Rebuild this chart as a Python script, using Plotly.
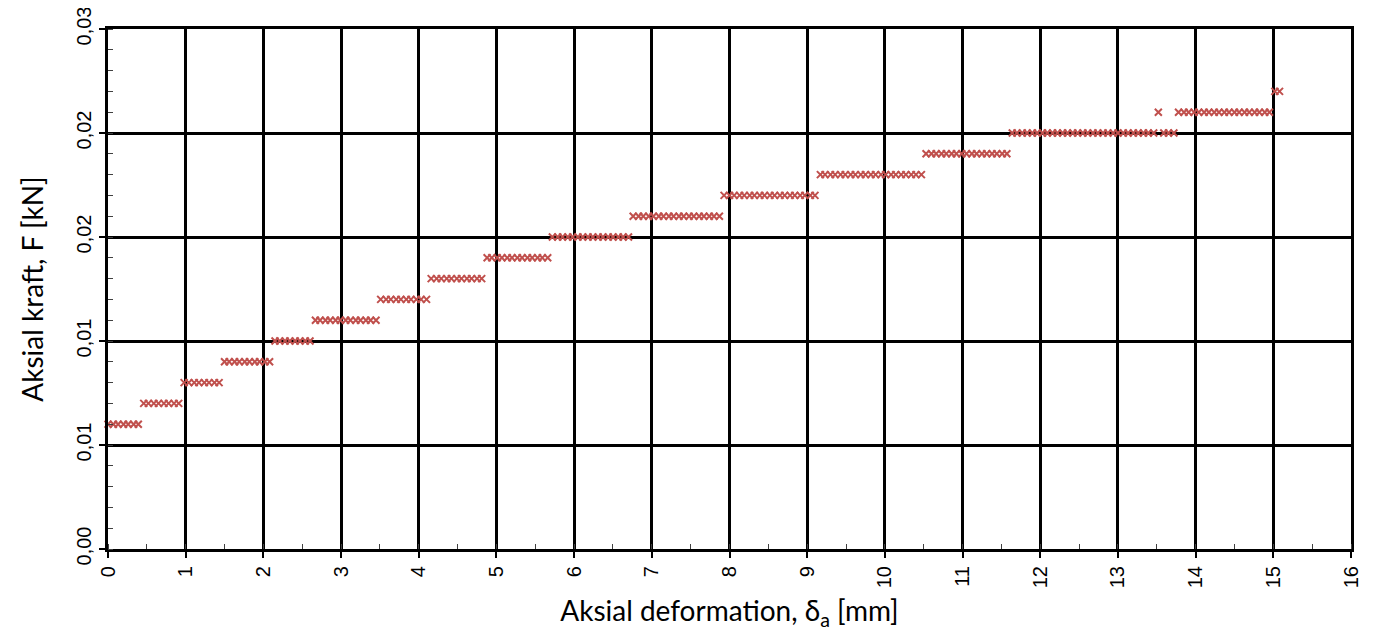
import plotly.graph_objects as go

# Force levels (kN), one per plateau of the step-like curve
force_levels = [0.0072, 0.0084, 0.0096, 0.0108, 0.0120, 0.0132, 0.0144, 0.0156,
                0.0168, 0.0180, 0.0192, 0.0204, 0.0216, 0.0228, 0.0240, 0.0252,
                0.0240, 0.0252, 0.0264]

# Axial deformation (mm) of the samples on each plateau
deformation_by_level = [
    [0.00, 0.07, 0.13, 0.20, 0.26, 0.33, 0.39],
    [0.46, 0.52, 0.59, 0.65, 0.72, 0.78, 0.85, 0.91],
    [0.98, 1.04, 1.11, 1.17, 1.24, 1.30, 1.37, 1.43],
    [1.50, 1.56, 1.63, 1.69, 1.76, 1.82, 1.89, 1.95, 2.02, 2.08],
    [2.15, 2.21, 2.28, 2.34, 2.41, 2.47, 2.54, 2.60],
    [2.67, 2.73, 2.80, 2.86, 2.93, 2.99, 3.06, 3.12, 3.19, 3.25, 3.32, 3.38, 3.45],
    [3.51, 3.58, 3.64, 3.71, 3.77, 3.84, 3.90, 3.97, 4.03, 4.10],
    [4.16, 4.23, 4.29, 4.36, 4.42, 4.49, 4.55, 4.62, 4.68, 4.75, 4.81],
    [4.88, 4.94, 5.01, 5.07, 5.14, 5.20, 5.27, 5.33, 5.40, 5.46, 5.53, 5.59, 5.66],
    [5.72, 5.79, 5.85, 5.92, 5.98, 6.05, 6.11, 6.18, 6.24, 6.31, 6.37, 6.44, 6.50,
     6.57, 6.63, 6.70],
    [6.76, 6.83, 6.89, 6.96, 7.02, 7.09, 7.15, 7.22, 7.28, 7.35, 7.41, 7.48, 7.54,
     7.61, 7.67, 7.74, 7.80, 7.87],
    [7.93, 8.00, 8.06, 8.13, 8.19, 8.26, 8.32, 8.39, 8.45, 8.52, 8.58, 8.65, 8.71,
     8.78, 8.84, 8.91, 8.97, 9.04, 9.10],
    [9.17, 9.23, 9.30, 9.36, 9.43, 9.49, 9.56, 9.62, 9.69, 9.75, 9.82, 9.88, 9.95,
     10.01, 10.08, 10.14, 10.21, 10.27, 10.34, 10.40, 10.47],
    [10.53, 10.60, 10.66, 10.73, 10.79, 10.86, 10.92, 10.99, 11.05, 11.12, 11.18,
     11.25, 11.31, 11.38, 11.44, 11.51, 11.57],
    [11.64, 11.70, 11.77, 11.83, 11.90, 11.96, 12.03, 12.09, 12.16, 12.22, 12.29,
     12.35, 12.42, 12.48, 12.55, 12.61, 12.68, 12.74, 12.81, 12.87, 12.94, 13.00,
     13.07, 13.13, 13.20, 13.26, 13.33, 13.39, 13.46],
    [13.52],
    [13.59, 13.65, 13.72],
    [13.78, 13.85, 13.91, 13.98, 14.04, 14.11, 14.17, 14.24, 14.30, 14.37, 14.43,
     14.50, 14.56, 14.63, 14.69, 14.76, 14.82, 14.89, 14.95],
    [15.02, 15.08],
]

x_ticks = list(range(0, 17))
y_ticks = [0.0, 0.006, 0.012, 0.018, 0.024, 0.030]

x_vals, y_vals = [], []
for level, xs in zip(force_levels, deformation_by_level):
    for xv in xs:
        x_vals.append(xv)
        y_vals.append(level)

fig = go.Figure()
fig.add_trace(go.Scatter(
    x=x_vals, y=y_vals, mode="markers",
    marker=dict(symbol="x-thin-open", size=7, color="#C0504D",
                line=dict(width=2, color="#C0504D")),
    showlegend=False, cliponaxis=False,
))

fig.update_layout(
    width=1366, height=629,
    margin=dict(l=100, r=23, t=21, b=88),
    paper_bgcolor="white", plot_bgcolor="white",
    separators=",.",
    font=dict(family="Liberation Sans", size=20, color="black"),
)

fig.update_xaxes(
    range=[0, 16], tickvals=x_ticks, ticktext=[str(v) for v in x_ticks],
    tickangle=-90, automargin=False, ticklabeloverflow="allow",
    tickfont_family="Liberation Sans", tickfont_size=20, tickfont_color="black",
    showgrid=True, gridcolor="black", gridwidth=2.5,
    showline=True, linecolor="black", linewidth=3, mirror=True,
    ticks="outside", ticklen=6, tickwidth=1.5, tickcolor="black",
    zeroline=False,
    minor=dict(ticks="inside", dtick=0.5, ticklen=5, tickwidth=1.2,
               tickcolor="#404040", showgrid=False),
    title_text="Aksial deformation, δ<sub>a</sub> [mm]",
    title_font_family="Lato", title_font_size=28, title_font_color="black",
    title_standoff=15,
)
fig.update_yaxes(
    range=[0, 0.03], tickvals=y_ticks, tickformat=".2f",
    tickangle=-90, automargin=False, ticklabeloverflow="allow",
    tickfont_family="Liberation Sans", tickfont_size=20, tickfont_color="black",
    showgrid=True, gridcolor="black", gridwidth=2.5,
    showline=True, linecolor="black", linewidth=3, mirror=True,
    ticks="outside", ticklen=6, tickwidth=1.5, tickcolor="black",
    zeroline=False,
    minor=dict(ticks="inside", dtick=0.0012, ticklen=5, tickwidth=1.2,
               tickcolor="#404040", showgrid=False),
    title_text="Aksial kraft, F [kN]",
    title_font_family="Lato", title_font_size=28, title_font_color="black",
    title_standoff=22,
)

fig.write_html("out.html")
